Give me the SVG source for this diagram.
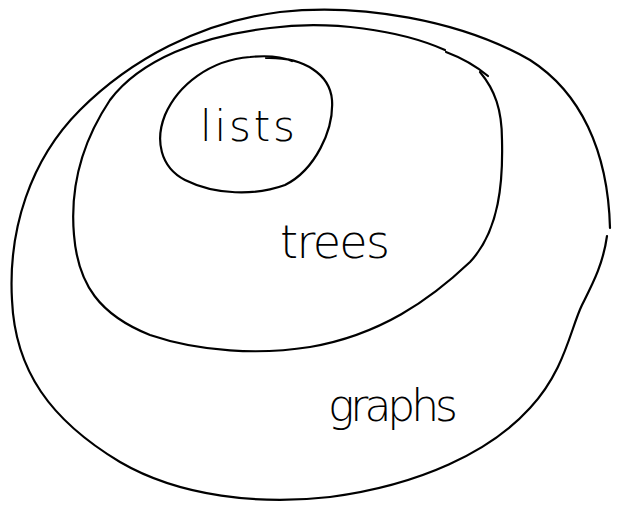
<svg xmlns="http://www.w3.org/2000/svg" width="620" height="510" viewBox="0 0 620 510">
  <style>
    .ink { fill: none; stroke: #000; stroke-width: 2.2; stroke-linecap: round; stroke-linejoin: round; }
    .hand { font-family: "DejaVu Sans", "Liberation Sans", sans-serif; font-weight: 200; fill: #000; }
  </style>
  <rect width="620" height="510" fill="#fff"/>
  <g id="connectors"/>
  <!-- outermost set -->
  <g id="graphs">
    <path class="ink" d="M607,236 C603,265 592,285 582,305 C570,330 565,370 530,408 C490,452 420,485 330,497 C260,505 180,497 120,462 C50,420 15,370 12,300 C8,230 30,160 80,110 C130,60 200,22 280,12 C360,3 460,20 530,60 C580,92 608,150 610,228"/>
    <text class="hand" x="328" y="421" font-size="44" textLength="130" lengthAdjust="spacing">graphs</text>
  </g>
  <!-- middle set -->
  <g id="trees">
    <path class="ink" d="M445,50 C400,30 330,20 270,28 C200,36 140,60 110,100 C80,145 70,190 74,235 C78,285 100,315 150,335 C200,352 260,355 310,347 C380,335 430,300 470,262 C500,230 503,180 502,140 C502,110 495,90 480,72"/>
    <path class="ink" d="M446,52 C462,58 476,66 488,76"/>
    <text class="hand" x="280" y="258" font-size="46" textLength="110" lengthAdjust="spacing">trees</text>
  </g>
  <!-- innermost set -->
  <g id="lists">
    <path class="ink" d="M266,58 C305,57 330,75 332,100 C334,130 315,170 285,185 C255,196 215,195 185,180 C160,167 155,140 165,115 C178,85 210,60 250,57 C270,55 285,58 292,61"/>
    <text class="hand" x="200" y="141" font-size="42" textLength="95" lengthAdjust="spacing">lists</text>
  </g>
</svg>
